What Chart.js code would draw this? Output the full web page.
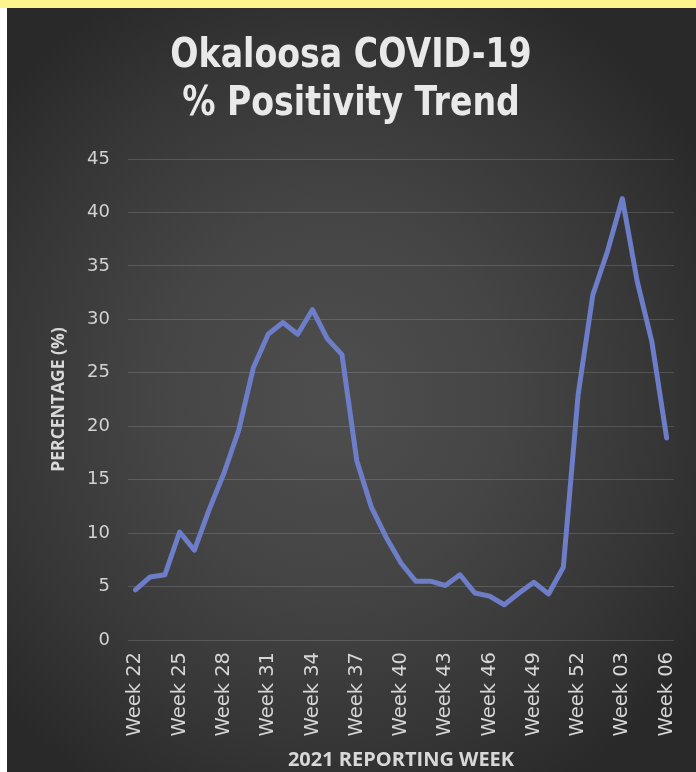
<!DOCTYPE html>
<html>
<head>
<meta charset="utf-8">
<title>Okaloosa COVID-19 % Positivity Trend</title>
<script src="https://cdn.jsdelivr.net/npm/chart.js@4.4.1/dist/chart.umd.min.js"></script>
<style>
  html, body { margin: 0; padding: 0; background: #ffffff; }
  #frame {
    position: relative;
    width: 696px;
    height: 772px;
    overflow: hidden;
    background: #ffffff;
  }
  #band {
    position: absolute; left: 0; top: 0; width: 696px; height: 8px;
    background: #fff38c;
  }
  #panel {
    position: absolute; left: 7px; top: 8px; width: 689px; height: 764px;
    background: radial-gradient(ellipse 64% 60% at 47% 51%, #4e4e4e 0%, #454545 40%, #363636 75%, #292929 100%);
  }
  #chart { display: block; }
</style>
</head>
<body>
<div id="frame">
  <div id="band"></div>
  <div id="panel"><canvas id="chart" width="689" height="764" style="width:689px;height:764px"></canvas></div>
</div>
<script>
// Weekly reporting periods (2021 weeks 22-52, then 2022 weeks 01-06)
const weeks = [
  'Week 22','Week 23','Week 24','Week 25','Week 26','Week 27','Week 28','Week 29',
  'Week 30','Week 31','Week 32','Week 33','Week 34','Week 35','Week 36','Week 37',
  'Week 38','Week 39','Week 40','Week 41','Week 42','Week 43','Week 44','Week 45',
  'Week 46','Week 47','Week 48','Week 49','Week 50','Week 51','Week 52',
  'Week 01','Week 02','Week 03','Week 04','Week 05','Week 06'
];

// Percent of tests positive per week
const positivity = [
  4.7, 5.9, 6.1, 10.1, 8.4, 12.2, 15.6, 19.6,
  25.5, 28.6, 29.7, 28.6, 30.9, 28.2, 26.7, 16.8,
  12.4, 9.6, 7.2, 5.5, 5.5, 5.1, 6.1, 4.4,
  4.1, 3.3, 4.4, 5.4, 4.3, 6.8, 22.9,
  32.3, 36.4, 41.3, 33.6, 27.9, 18.9
];

const yTicks = [0, 5, 10, 15, 20, 25, 30, 35, 40, 45];
const titleLines = ['Okaloosa COVID-19', '% Positivity Trend'];
const yAxisTitle = 'PERCENTAGE (%)';
const xAxisTitle = '2021 REPORTING WEEK';
const labelEvery = 3;

// Two-line condensed heading drawn onto the canvas
const headingPlugin = {
  id: 'heading',
  afterDraw(chart) {
    const ctx = chart.ctx;
    ctx.save();
    ctx.fillStyle = '#e9e9e9';
    ctx.font = 'bold 40px "DejaVu Sans"';
    ctx.textAlign = 'center';
    ctx.textBaseline = 'alphabetic';
    const baselines = [59, 107];
    titleLines.forEach((line, i) => {
      ctx.save();
      ctx.translate(344, baselines[i]);
      ctx.scale(0.83, 1);
      ctx.fillText(line, 0, 0);
      ctx.restore();
    });
    ctx.restore();
  }
};

new Chart(document.getElementById('chart'), {
  type: 'line',
  data: {
    labels: weeks,
    datasets: [{
      data: positivity,
      borderColor: '#6d7dc7',
      borderWidth: 5,
      pointRadius: 0,
      pointHoverRadius: 0,
      tension: 0,
      borderJoinStyle: 'round',
      borderCapStyle: 'round',
      fill: false
    }]
  },
  options: {
    responsive: false,
    animation: false,
    devicePixelRatio: 1,
    layout: { padding: { top: 151, right: 22, bottom: 0, left: 0 } },
    plugins: {
      legend: { display: false },
      title: { display: false },
      tooltip: { enabled: false }
    },
    scales: {
      x: {
        type: 'category',
        offset: true,
        grid: { display: false, drawTicks: false },
        border: { display: false },
        ticks: {
          autoSkip: false,
          maxRotation: 90,
          minRotation: 90,
          padding: 12,
          color: '#d6d6d6',
          font: { family: '"DejaVu Sans"', size: 19.5 },
          callback: function (value, index) {
            return index % labelEvery === 0 ? this.getLabelForValue(value) : '';
          }
        },
        title: {
          display: true,
          text: xAxisTitle,
          color: '#d8d8d8',
          font: { family: '"Open Sans"', size: 20, weight: 'bold' },
          padding: { top: 0, bottom: 0 }
        },
        afterFit(scale) {
          scale.height = 132;
          scale.paddingLeft = 0;
          scale.paddingRight = 0;
        }
      },
      y: {
        min: yTicks[0],
        max: yTicks[yTicks.length - 1],
        grid: {
          color: 'rgba(255,255,255,0.14)',
          lineWidth: 1,
          drawTicks: false
        },
        border: { display: false },
        ticks: {
          stepSize: 5,
          padding: 18,
          color: '#d2d2d2',
          font: { family: '"DejaVu Sans"', size: 18 }
        },
        afterBuildTicks(scale) { scale.ticks = yTicks.map(v => ({ value: v })); },
        title: {
          display: true,
          text: yAxisTitle,
          color: '#d8d8d8',
          font: { family: '"Open Sans"', size: 17.5, weight: 'bold' },
          padding: { top: 42, bottom: 0 }
        },
        afterFit(scale) { scale.width = 121; }
      }
    }
  },
  plugins: [headingPlugin]
});
</script>
</body>
</html>
